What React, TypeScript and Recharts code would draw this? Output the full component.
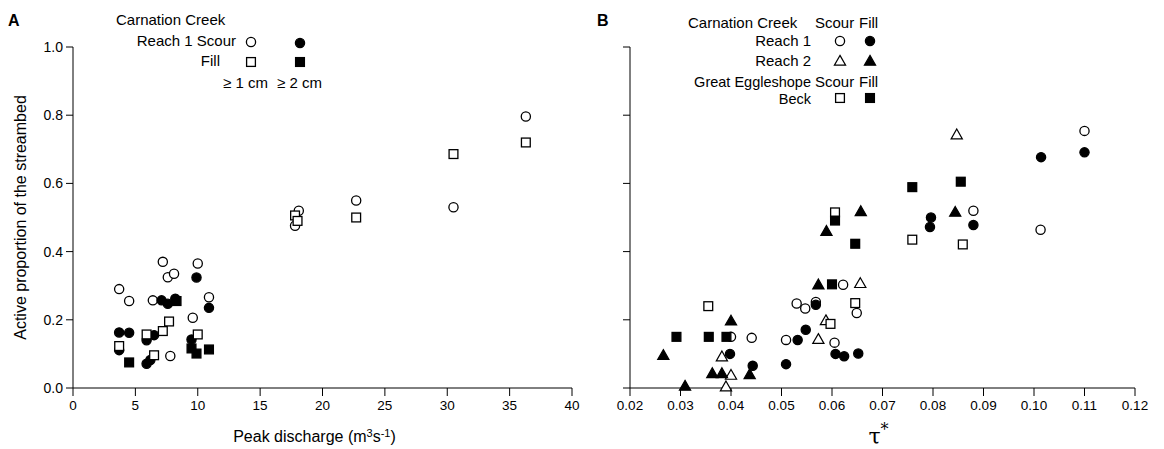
import React from 'react';
import { ScatterChart, Scatter, XAxis, YAxis } from 'recharts';

type Pt = [number, number];

// Panel A: Carnation Creek Reach 1, peak discharge vs active proportion
const A_SCOUR_1CM: Pt[] = [
  [3.7, 0.29], [4.5, 0.255], [6.4, 0.257], [7.2, 0.37], [7.6, 0.325], [8.1, 0.335],
  [10.0, 0.365], [10.9, 0.266], [9.6, 0.206], [7.8, 0.094], [17.8, 0.476], [18.1, 0.52],
  [22.7, 0.55], [30.5, 0.53], [36.3, 0.796],
];
const A_SCOUR_2CM: Pt[] = [
  [9.9, 0.324], [7.1, 0.257], [7.6, 0.247], [8.2, 0.262], [10.9, 0.235], [3.7, 0.163],
  [4.5, 0.162], [5.9, 0.14], [6.5, 0.155], [3.7, 0.111], [5.9, 0.071], [6.2, 0.082], [9.5, 0.142],
];
const A_FILL_1CM: Pt[] = [
  [5.9, 0.157], [7.2, 0.167], [7.7, 0.195], [3.7, 0.123], [6.5, 0.096], [10.0, 0.157],
  [17.8, 0.506], [18.0, 0.49], [22.7, 0.5], [30.5, 0.686], [36.3, 0.72],
];
const A_FILL_2CM: Pt[] = [
  [4.5, 0.075], [9.5, 0.116], [9.9, 0.101], [10.9, 0.113], [8.3, 0.255],
];

// Panel B: tau* vs active proportion
const B_R1_SCOUR: Pt[] = [
  [0.040, 0.15], [0.0441, 0.147], [0.0509, 0.141], [0.053, 0.248], [0.0547, 0.233],
  [0.0568, 0.252], [0.0605, 0.133], [0.0622, 0.303], [0.0649, 0.22], [0.088, 0.52],
  [0.1013, 0.464], [0.110, 0.754],
];
const B_R1_FILL: Pt[] = [
  [0.0398, 0.1], [0.0443, 0.065], [0.0509, 0.07], [0.0532, 0.141], [0.0548, 0.171],
  [0.0568, 0.244], [0.0607, 0.1], [0.0624, 0.093], [0.0652, 0.101], [0.0794, 0.472],
  [0.0796, 0.5], [0.088, 0.478], [0.1014, 0.677], [0.110, 0.691],
];
const B_R2_SCOUR: Pt[] = [
  [0.0382, 0.092], [0.040, 0.038], [0.039, 0.004], [0.0573, 0.143], [0.0588, 0.198],
  [0.0656, 0.307], [0.0847, 0.743],
];
const B_R2_FILL: Pt[] = [
  [0.0266, 0.096], [0.0309, 0.006], [0.0363, 0.043], [0.0382, 0.043], [0.040, 0.197],
  [0.0437, 0.04], [0.0573, 0.303], [0.0589, 0.46], [0.0657, 0.518], [0.0844, 0.516],
];
const B_GEB_SCOUR: Pt[] = [
  [0.0355, 0.24], [0.0597, 0.188], [0.0646, 0.249], [0.0606, 0.515], [0.0759, 0.435], [0.0859, 0.421],
];
const B_GEB_FILL: Pt[] = [
  [0.0292, 0.15], [0.0356, 0.15], [0.0391, 0.15], [0.06, 0.304], [0.0606, 0.491],
  [0.0646, 0.423], [0.0759, 0.589], [0.0855, 0.605],
];

const Y_TICKS = [0, 0.2, 0.4, 0.6, 0.8, 1.0];
const A_X_TICKS = [0, 5, 10, 15, 20, 25, 30, 35, 40];
const B_X_TICKS = [0.02, 0.03, 0.04, 0.05, 0.06, 0.07, 0.08, 0.09, 0.1, 0.11, 0.12];

const FONT = '"Liberation Sans", Arial, Helvetica, sans-serif';

const toObj = (pts: Pt[]) => pts.map(([x, y]) => ({ x, y }));

type Kind = 'circle' | 'square' | 'triangle';

const Mark = ({ kind, filled, cx, cy }: { kind: Kind; filled: boolean; cx: number; cy: number }) => {
  const fill = filled ? '#000' : '#fff';
  if (kind === 'circle') return <circle cx={cx} cy={cy} r={4.6} fill={fill} stroke="#000" strokeWidth={1.3} />;
  if (kind === 'square') return <rect x={cx - 4.4} y={cy - 4.4} width={8.8} height={8.8} fill={fill} stroke="#000" strokeWidth={1.3} />;
  return <polygon points={`${cx},${cy - 5.6} ${cx + 5.6},${cy + 4.2} ${cx - 5.6},${cy + 4.2}`} fill={fill} stroke="#000" strokeWidth={1.2} strokeLinejoin="miter" />;
};

const shape = (kind: Kind, filled: boolean) => (props: any) => {
  if (props.cx == null || props.cy == null) return <g />;
  return <Mark kind={kind} filled={filled} cx={props.cx} cy={props.cy} />;
};

const xTickStyle = { fill: '#000', fontSize: 13.5, fontFamily: FONT };
const yTickStyle = { fill: '#000', fontSize: 14, fontFamily: FONT };

const App = () => {
  return (
    <div style={{ position: 'absolute', left: 0, top: 0, width: 1164, height: 449, background: '#fff' }}>
      <div style={{ position: 'absolute', left: 0, top: 0 }}>
        <ScatterChart width={590} height={449} margin={{ top: 47, right: 18, bottom: 0, left: 13 }}>
          <XAxis
            type="number" dataKey="x" domain={[0, 40]} ticks={A_X_TICKS} height={61}
            stroke="#000" tickSize={8} tickMargin={4} tick={xTickStyle} allowDataOverflow
            label={{
              content: ({ viewBox }: any) => (
                <text x={viewBox.x + viewBox.width / 2 - 8} y={viewBox.y + viewBox.height - 7} textAnchor="middle" fontFamily={FONT} fontSize={16} fill="#000">
                  Peak discharge (m<tspan dy={-5} fontSize={11}>3</tspan><tspan dy={5}>s</tspan><tspan dy={-5} fontSize={11}>-1</tspan><tspan dy={5}>)</tspan>
                </text>
              ),
            }}
          />
          <YAxis
            type="number" dataKey="y" domain={[0, 1]} ticks={Y_TICKS} width={60}
            stroke="#000" tickSize={7} tickMargin={3} tick={yTickStyle}
            tickFormatter={(v: number) => v.toFixed(1)}
            label={{
              content: ({ viewBox }: any) => (
                <text x={22} y={viewBox.y + viewBox.height / 2} transform={`rotate(-90 22 ${viewBox.y + viewBox.height / 2})`} textAnchor="middle" dominantBaseline="middle" fontFamily={FONT} fontSize={16} fill="#000">
                  Active proportion of the streambed
                </text>
              ),
            }}
          />
          <Scatter data={toObj(A_SCOUR_1CM)} shape={shape('circle', false)} isAnimationActive={false} />
          <Scatter data={toObj(A_SCOUR_2CM)} shape={shape('circle', true)} isAnimationActive={false} />
          <Scatter data={toObj(A_FILL_2CM)} shape={shape('square', true)} isAnimationActive={false} />
          <Scatter data={toObj(A_FILL_1CM)} shape={shape('square', false)} isAnimationActive={false} />
        </ScatterChart>
      </div>
      <div style={{ position: 'absolute', left: 590, top: 0 }}>
        <ScatterChart width={574} height={449} margin={{ top: 47, right: 29, bottom: 0, left: 0 }}>
          <XAxis
            type="number" dataKey="x" domain={[0.02, 0.12]} ticks={B_X_TICKS} height={61}
            stroke="#000" tickSize={8} tickMargin={4} tick={xTickStyle}
            tickFormatter={(v: number) => v.toFixed(2)}
            label={{
              content: ({ viewBox }: any) => (
                <text x={viewBox.x + viewBox.width / 2 - 4} y={viewBox.y + viewBox.height - 5} textAnchor="middle" fontFamily='"DejaVu Serif", "Liberation Serif", serif' fontSize={22} fill="#000">
                  τ<tspan dy={-9} fontSize={16}>*</tspan>
                </text>
              ),
            }}
          />
          <YAxis
            type="number" dataKey="y" domain={[0, 1]} ticks={Y_TICKS} width={40}
            stroke="#000" tickSize={7} tick={yTickStyle} tickFormatter={() => ''}
          />
          <Scatter data={toObj(B_R1_SCOUR)} shape={shape('circle', false)} isAnimationActive={false} />
          <Scatter data={toObj(B_R2_SCOUR)} shape={shape('triangle', false)} isAnimationActive={false} />
          <Scatter data={toObj(B_GEB_SCOUR)} shape={shape('square', false)} isAnimationActive={false} />
          <Scatter data={toObj(B_R1_FILL)} shape={shape('circle', true)} isAnimationActive={false} />
          <Scatter data={toObj(B_R2_FILL)} shape={shape('triangle', true)} isAnimationActive={false} />
          <Scatter data={toObj(B_GEB_FILL)} shape={shape('square', true)} isAnimationActive={false} />
        </ScatterChart>
      </div>
      <svg width={1164} height={449} style={{ position: 'absolute', left: 0, top: 0, pointerEvents: 'none' }}>
        <g fontFamily={FONT} fontSize={15} fill="#000">
          <text x={8} y={26} fontWeight="bold" fontSize={16}>A</text>
          <text x={597} y={26} fontWeight="bold" fontSize={16}>B</text>

          <text x={116} y={25}>Carnation Creek</text>
          <text x={236} y={46} textAnchor="end">Reach 1 Scour</text>
          <text x={220} y={66} textAnchor="end">Fill</text>
          <text x={223} y={88}>≥ 1 cm</text>
          <text x={277} y={88}>≥ 2 cm</text>

          <text x={688} y={28}>Carnation Creek</text>
          <text x={815} y={28}>Scour</text>
          <text x={859} y={28}>Fill</text>
          <text x={811} y={46} textAnchor="end">Reach 1</text>
          <text x={811} y={66} textAnchor="end">Reach 2</text>
          <text x={811} y={87} textAnchor="end" fontSize={14.5}>Great Eggleshope</text>
          <text x={815} y={87}>Scour</text>
          <text x={859} y={87}>Fill</text>
          <text x={811} y={103.5} textAnchor="end" fontSize={14.5}>Beck</text>
        </g>
        <Mark kind="circle" filled={false} cx={251} cy={42} />
        <Mark kind="circle" filled cx={300} cy={43} />
        <Mark kind="square" filled={false} cx={251} cy={62} />
        <Mark kind="square" filled cx={300} cy={62} />

        <Mark kind="circle" filled={false} cx={840} cy={41} />
        <Mark kind="circle" filled cx={870} cy={41} />
        <Mark kind="triangle" filled={false} cx={840} cy={61} />
        <Mark kind="triangle" filled cx={870} cy={61} />
        <Mark kind="square" filled={false} cx={840} cy={98} />
        <Mark kind="square" filled cx={870} cy={98} />
      </svg>
    </div>
  );
};

export default App;
